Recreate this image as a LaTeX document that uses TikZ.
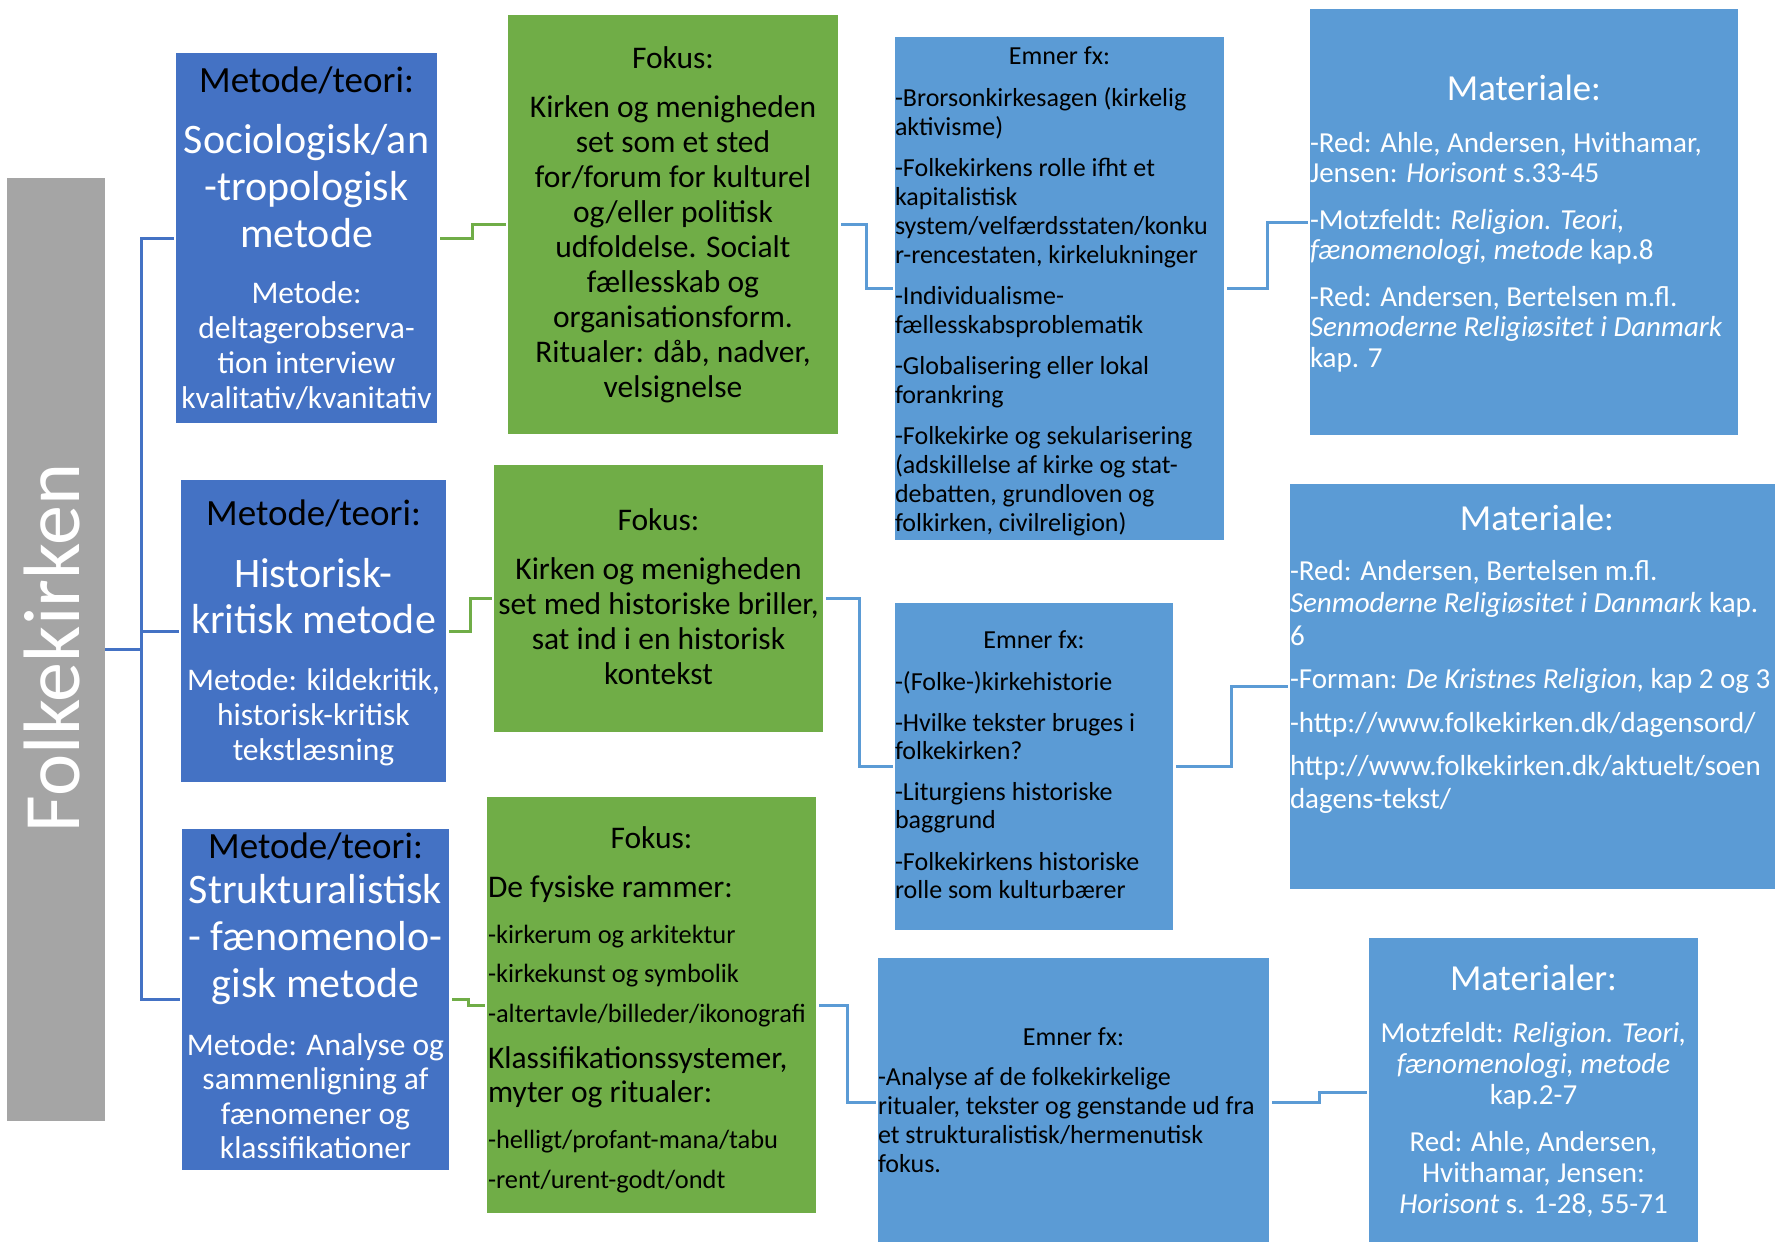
\documentclass[tikz,border=0pt]{standalone}
\usepackage{fontspec}
\setmainfont{Carlito}
\usetikzlibrary{calc}
\definecolor{dblue}{HTML}{4472C4}
\definecolor{lblue}{HTML}{5B9BD5}
\definecolor{grn}{HTML}{70AD47}
\definecolor{gry}{HTML}{A5A5A5}
\newcommand\fs[2]{\fontsize{#1}{#2}\selectfont}
\newcommand\R{\rule{0pt}{1em}}
\begin{document}
\begin{tikzpicture}[x=1pt,y=-1pt,
  box/.style={inner sep=0,outer sep=0,draw=none},
  tx/.style={inner sep=0,outer sep=0,anchor=north},
  c/.style={align=center},
  l/.style={align=left,anchor=north west},
  con/.style={line width=3pt,shorten <=3pt,shorten >=2pt},
]
\useasboundingbox (0,0) rectangle (1775,1242);
\fill[white] (0,0) rectangle (1775,1242);

% boxes
\node[box,fill=gry,minimum width=98pt,minimum height=943pt] (g) at (56,649.5) {};
\node[box,fill=dblue,minimum width=261pt,minimum height=370pt] (b1) at (306.5,238) {};
\node[box,fill=dblue,minimum width=265pt,minimum height=302pt] (b2) at (313.5,631) {};
\node[box,fill=dblue,minimum width=267pt,minimum height=341pt] (b3) at (315.5,999.5) {};
\node[box,fill=grn,minimum width=330pt,minimum height=419pt] (f1) at (673,224.5) {};
\node[box,fill=grn,minimum width=329pt,minimum height=267pt] (f2) at (658.5,598.5) {};
\node[box,fill=grn,minimum width=329pt,minimum height=416pt] (f3) at (651.5,1005) {};
\node[box,fill=lblue,minimum width=329pt,minimum height=503pt] (e1) at (1059.5,288.5) {};
\node[box,fill=lblue,minimum width=278pt,minimum height=327pt] (e2) at (1034,766.5) {};
\node[box,fill=lblue,minimum width=391pt,minimum height=288pt] (e3) at (1073.5,1102) {};
\node[box,fill=lblue,minimum width=428pt,minimum height=426pt] (m1) at (1524,222) {};
\node[box,fill=lblue,minimum width=494pt,minimum height=405pt] (m2) at (1537,686.5) {};
\node[box,fill=lblue,minimum width=329pt,minimum height=308pt] (m3) at (1533.5,1092) {};

% connectors
\coordinate (tr) at (141,649.5);
\draw[line width=3pt,dblue,shorten <=0pt] (g.east) -- (tr);
\draw[line width=3pt,dblue,shorten >=2pt] (tr) |- (b1.west);
\draw[line width=3pt,dblue,shorten >=2pt] (tr) |- (b2.west);
\draw[line width=3pt,dblue,shorten >=2pt] (tr) |- (b3.west);
\draw[con,grn] (b1.east) -| ($(b1.east)!.5!(f1.west)$) |- (f1.west);
\draw[con,grn] (b2.east) -| ($(b2.east)!.5!(f2.west)$) |- (f2.west);
\draw[con,grn] (b3.east) -| ($(b3.east)!.5!(f3.west)$) |- (f3.west);
\draw[con,lblue] (f1.east) -| ($(f1.east)!.5!(e1.west)$) |- (e1.west);
\draw[con,lblue] (f2.east) -| ($(f2.east)!.5!(e2.west)$) |- (e2.west);
\draw[con,lblue] (f3.east) -| ($(f3.east)!.5!(e3.west)$) |- (e3.west);
\draw[con,lblue] (e1.east) -| ($(e1.east)!.5!(m1.west)$) |- (m1.west);
\draw[con,lblue] (e2.east) -| ($(e2.east)!.5!(m2.west)$) |- (m2.west);
\draw[con,lblue] (e3.east) -| ($(e3.east)!.5!(m3.west)$) |- (m3.west);

% Folkekirken
\node[inner sep=0,rotate=90,anchor=base,text=white,font={\fs{80}{90}}] (fk) at (79,648) {Folkekirken};

% box 1
\node[tx,c,font={\fs{37}{44}}] (t1a) at (306.5,55) {\R Metode/teori:};
\node[tx,c,text=white,font={\fs{42}{47}}] (t1b) at (306.5,111) {\R Sociologisk/an\\-tropologisk\\metode};
\node[tx,c,text=white,font={\fs{31.5}{35}}] (t1c) at (306.5,271.5) {\R Metode:\\deltagerobserva-\\tion interview\\kvalitativ/kvanitativ};
% box 2
\node[tx,c,font={\fs{37}{44}}] (t2a) at (313.5,488) {\R Metode/teori:};
\node[tx,c,text=white,font={\fs{42}{46}}] (t2b) at (313.5,545) {\R Historisk-\\kritisk metode};
\node[tx,c,text=white,font={\fs{31.5}{35}}] (t2c) at (313.5,658.5) {\R Metode: kildekritik,\\historisk-kritisk\\tekstlæsning};
% box 3
\node[tx,c,font={\fs{37}{44}}] (t3a) at (315.5,821) {\R Metode/teori:};
\node[tx,c,text=white,font={\fs{42}{47}}] (t3b) at (315.5,861) {\R Strukturalistisk\\- fænomenolo-\\gisk metode};
\node[tx,c,text=white,font={\fs{31.5}{34.5}}] (t3c) at (315.5,1023.5) {\R Metode: Analyse og\\sammenligning af\\fænomener og\\klassifikationer};

% green 1
\node[tx,c,font={\fs{31.5}{35}}] (g1a) at (673,36.5) {\R Fokus:};
\node[tx,c,font={\fs{31.5}{35.1}}] (g1b) at (673,85.5) {\R Kirken og menigheden\\set som et sted\\for/forum for kulturel\\og/eller politisk\\udfoldelse. Socialt\\fællesskab og\\organisationsform.\\Ritualer: dåb, nadver,\\velsignelse};
% green 2
\node[tx,c,font={\fs{31.5}{35}}] (g2a) at (658.5,498.5) {\R Fokus:};
\node[tx,c,font={\fs{31.5}{35.3}}] (g2b) at (658.5,547.5) {\R Kirken og menigheden\\set med historiske briller,\\sat ind i en historisk\\kontekst};
% green 3
\node[tx,c,font={\fs{31.5}{35}}] (g3a) at (651.5,816.5) {\R Fokus:};
\node[tx,l,font={\fs{31.5}{35}}] (g3b) at (488,865.5) {\R De fysiske rammer:};
\node[tx,l,font={\fs{26.4}{39.5}}] (g3c) at (488,916.6) {\R -kirkerum og arkitektur\\-kirkekunst og symbolik\\-altertavle/billeder/ikonografi};
\node[tx,l,font={\fs{31.5}{34}}] (g3d) at (488,1036.5) {\R Klassifikationssystemer,\\myter og ritualer:};
\node[tx,l,font={\fs{26.4}{40}}] (g3e) at (488,1121.6) {\R -helligt/profant-mana/tabu\\-rent/urent-godt/ondt};

% emner 1
\node[tx,c,font={\fs{26}{29}}] (e1a) at (1059.5,38) {\R Emner fx:};
\node[tx,l,font={\fs{26}{29}}] (e1b) at (895,80) {\R -Brorsonkirkesagen (kirkelig\\aktivisme)\\[12pt]-Folkekirkens rolle ifht et\\kapitalistisk\\system/velfærdsstaten/konku\\r-rencestaten, kirkelukninger\\[12pt]-Individualisme-\\fællesskabsproblematik\\[12pt]-Globalisering eller lokal\\forankring\\[12pt]-Folkekirke og sekularisering\\(adskillelse af kirke og stat-\\debatten, grundloven og\\folkirken, civilreligion)};
% emner 2
\node[tx,c,font={\fs{26}{28}}] (e2a) at (1034,622) {\R Emner fx:};
\node[tx,l,font={\fs{26}{28}}] (e2b) at (895,664) {\R -(Folke-)kirkehistorie\\[13pt]-Hvilke tekster bruges i\\folkekirken?\\[13pt]-Liturgiens historiske\\baggrund\\[14pt]-Folkekirkens historiske\\rolle som kulturbærer};
% emner 3
\node[tx,c,font={\fs{26}{29}}] (e3a) at (1073.5,1019) {\R Emner fx:};
\node[tx,l,font={\fs{26}{29}}] (e3b) at (878,1059) {\R -Analyse af de folkekirkelige\\ritualer, tekster og genstande ud fra\\et strukturalistisk/hermenutisk\\fokus.};

% materiale 1
\node[tx,c,text=white,font={\fs{36.7}{44}}] (m1a) at (1524,63.3) {\R Materiale:};
\node[tx,l,text=white,font={\fs{29}{30.5}}] (m1b) at (1310,123) {\R -Red: Ahle, Andersen, Hvithamar,\\Jensen: \textit{Horisont} s.33-45\\[16pt]-Motzfeldt: \textit{Religion. Teori,}\\\textit{fænomenologi, metode} kap.8\\[16pt]-Red: Andersen, Bertelsen m.fl.\\\textit{Senmoderne Religiøsitet i Danmark}\\kap. 7};
% materiale 2
\node[tx,c,text=white,font={\fs{36.7}{44}}] (m2a) at (1537,493.3) {\R Materiale:};
\node[tx,l,text=white,font={\fs{29}{32.5}}] (m2b) at (1290,551) {\R -Red: Andersen, Bertelsen m.fl.\\\textit{Senmoderne Religiøsitet i Danmark} kap.\\6\\[11pt]-Forman: \textit{De Kristnes Religion}, kap 2 og 3\\[11pt]-http://www.folkekirken.dk/dagensord/\\[11pt]http://www.folkekirken.dk/aktuelt/soen\\dagens-tekst/};
% materialer 3
\node[tx,c,text=white,font={\fs{36.7}{44}}] (m3a) at (1533.5,953.3) {\R Materialer:};
\node[tx,c,text=white,font={\fs{29}{31}}] (m3b) at (1533.5,1013) {\R Motzfeldt: \textit{Religion. Teori,}\\\textit{fænomenologi, metode}\\kap.2-7\\[16pt]Red: Ahle, Andersen,\\Hvithamar, Jensen:\\\textit{Horisont} s. 1-28, 55-71};
\end{tikzpicture}
\end{document}
